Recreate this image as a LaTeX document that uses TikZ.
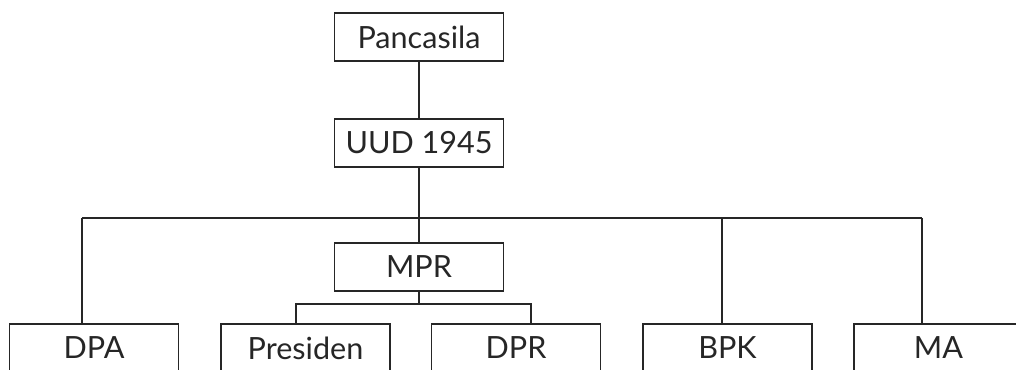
\documentclass[tikz,border=0pt]{standalone}
\usepackage{fontspec}
\setmainfont{Lato}
\usepackage{tikz}

\tikzset{
    organ/.style={draw=black!85, line width=0.6pt, minimum width=3.38cm, minimum height=0.96cm,
        inner sep=0pt, font=\fontsize{17.4}{19}\selectfont, text=black!85},
    link/.style={draw=black!85, line width=0.6pt}
}

\begin{document}
\begin{tikzpicture}
    \useasboundingbox (0,0) rectangle (20.32,7.38);

    \node[organ] (pancasila) at (8.38, 6.64) {Pancasila};
    \node[organ] (uud) at (8.38, 4.52) {UUD 1945};
    \node[organ] (mpr) at (8.38, 2.04) {MPR};

    \node[organ] (dpa) at (1.88, 0.42) {DPA};
    \node[organ] (presiden) at (6.11, 0.42) {Presiden};
    \node[organ] (dpr) at (10.32, 0.42) {DPR};
    \node[organ] (bpk) at (14.55, 0.42) {BPK};
    \node[organ] (ma) at (18.77, 0.42) {MA};

    % main bus
    \coordinate (busL) at (1.64, 3.02);
    \coordinate (busR) at (18.44, 3.02);
    \coordinate (busB) at (14.44, 3.02);
    % bus under MPR
    \coordinate (subL) at (5.92, 1.30);
    \coordinate (subR) at (10.62, 1.30);

    \draw[link] (pancasila) -- (uud);
    \draw[link] (uud) -- (mpr);
    \draw[link] (busL) -- (busR);
    \draw[link] (busL) -- (busL |- dpa.north);
    \draw[link] (busB) -- (busB |- bpk.north);
    \draw[link] (busR) -- (busR |- ma.north);

    \draw[link] (mpr.south) -- (mpr.south |- subL);
    \draw[link] (subL |- presiden.north) -- (subL) -- (subR) -- (subR |- dpr.north);
\end{tikzpicture}
\end{document}
